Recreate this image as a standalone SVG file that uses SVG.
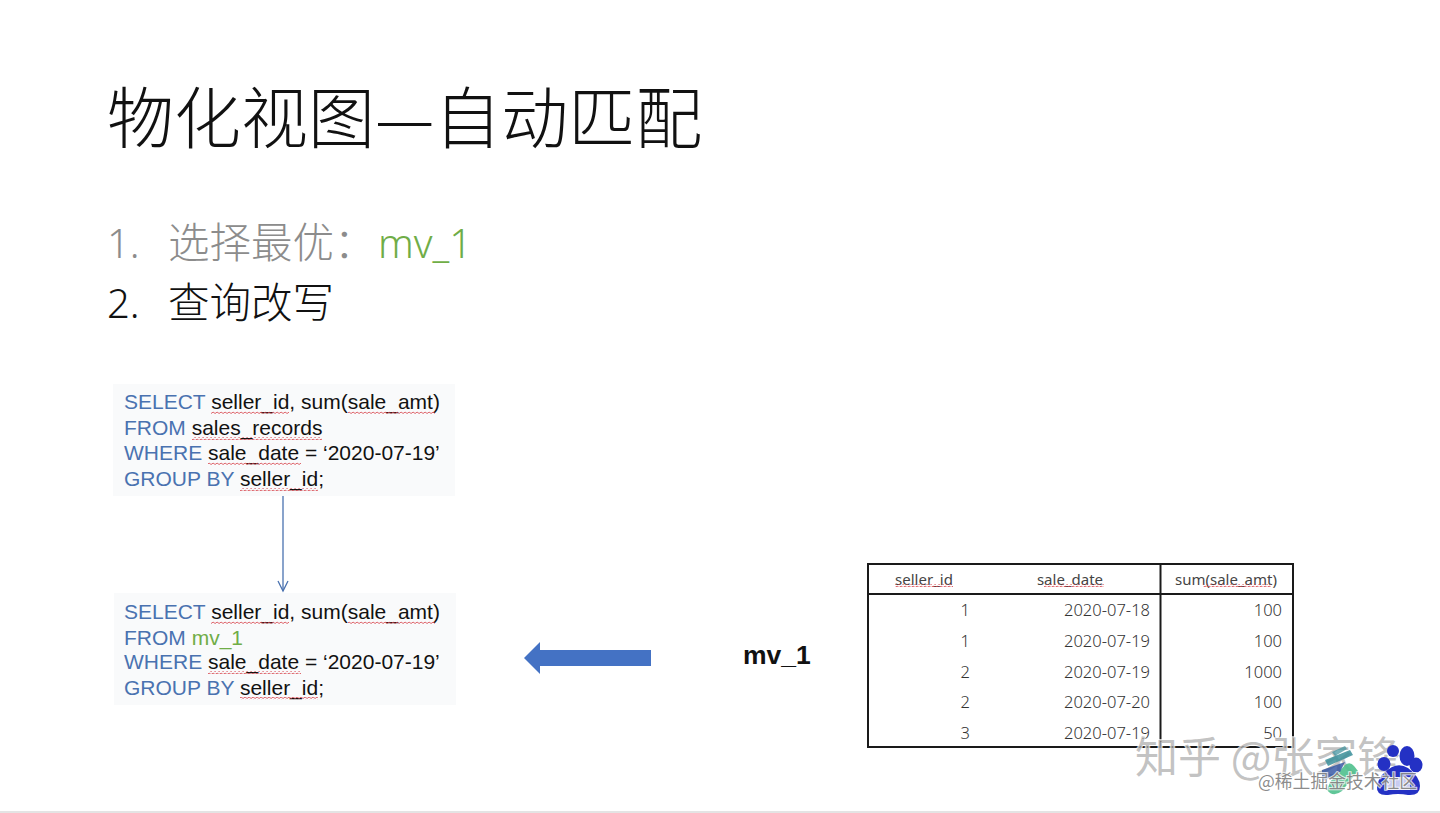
<svg xmlns="http://www.w3.org/2000/svg" width="1440" height="813" viewBox="0 0 1440 813">
<style>
.cjk{font-family:"Noto Sans CJK SC","Noto Sans",sans-serif;font-weight:300}
.lat{font-family:"Noto Sans",sans-serif;font-weight:300;font-size:40px}
.sql{font-family:"Liberation Sans",Arial,sans-serif;font-size:21px;fill:#111}
.kw{fill:#4a72b0}
.g{fill:#70ad47}
.box{fill:#f9fafb}
.head{font-family:"Noto Sans","Noto Sans CJK SC",sans-serif;font-size:15px;fill:#444;text-anchor:middle}
.cell{font-family:"Noto Sans","Noto Sans CJK SC",sans-serif;font-weight:300;font-size:16.500px;fill:#333;text-anchor:end}
.rule{stroke:#1a1a1a;stroke-width:2;fill:none}
.wm{font-family:"Noto Sans CJK SC",sans-serif;paint-order:stroke;stroke:#fff;stroke-opacity:.75;stroke-width:2px}
</style>
<defs>
<pattern id="wave" width="4" height="3" patternUnits="userSpaceOnUse">
<path d="M0 2 L1 1 L3 2.400 L4 2" fill="none" stroke="#d8434a" stroke-width="0.800"/>
</pattern>
<marker id="open" markerWidth="14" markerHeight="12" refX="11" refY="6" orient="auto" markerUnits="userSpaceOnUse">
<path d="M1 1 L11 6 L1 11" fill="none" stroke="#4a72b0" stroke-width="1.300"/>
</marker>
</defs>
<rect width="1440" height="813" fill="#fff"/>
<rect y="811" width="1440" height="2" fill="#e4e4e4"/>

<g id="title"><text class="cjk" x="107" y="143" font-size="67" fill="#111">物化视图—自动匹配</text></g>

<g id="list">
<text class="lat" x="107" y="258" fill="#8c8c8c">1.</text>
<text class="cjk" x="168" y="258" font-size="41.500" fill="#8c8c8c">选择最优：</text>
<text class="lat" x="378" y="258" fill="#70ad47">mv_1</text>
<text class="lat" x="107" y="318" fill="#111">2.</text>
<text class="cjk" x="168" y="318" font-size="41.500" fill="#111">查询改写</text>
</g>

<g id="sql-original">
<rect class="box" x="113" y="384" width="342" height="112"/>
<text class="sql" x="124" y="409"><tspan class="kw">SELECT </tspan>seller_id, sum(sale_amt)</text>
<text class="sql" x="124" y="435"><tspan class="kw">FROM </tspan>sales_records</text>
<text class="sql" x="124" y="460"><tspan class="kw">WHERE </tspan>sale_date = ‘2020-07-19’</text>
<text class="sql" x="124" y="486"><tspan class="kw">GROUP BY </tspan>seller_id;</text>
<rect x="211" y="411" width="78" height="3" fill="url(#wave)"/>
<rect x="348" y="411" width="87" height="3" fill="url(#wave)"/>
<rect x="192" y="437" width="130" height="3" fill="url(#wave)"/>
<rect x="208" y="462" width="93" height="3" fill="url(#wave)"/>
<rect x="240" y="488" width="78" height="3" fill="url(#wave)"/>
</g>

<g id="sql-rewritten">
<rect class="box" x="114" y="593" width="342" height="112"/>
<text class="sql" x="124" y="619"><tspan class="kw">SELECT </tspan>seller_id, sum(sale_amt)</text>
<text class="sql" x="124" y="645"><tspan class="kw">FROM </tspan><tspan class="g">mv_1</tspan></text>
<text class="sql" x="124" y="669"><tspan class="kw">WHERE </tspan>sale_date = ‘2020-07-19’</text>
<text class="sql" x="124" y="695"><tspan class="kw">GROUP BY </tspan>seller_id;</text>
<rect x="211" y="621" width="78" height="3" fill="url(#wave)"/>
<rect x="348" y="621" width="87" height="3" fill="url(#wave)"/>
<rect x="208" y="671" width="93" height="3" fill="url(#wave)"/>
<rect x="240" y="697" width="78" height="3" fill="url(#wave)"/>
</g>

<g id="connectors">
<line x1="283" y1="496" x2="283" y2="591" stroke="#4a72b0" stroke-width="1.300" marker-end="url(#open)"/>
<path d="M524 658 L540 642 L540 650 L651 650 L651 666 L540 666 L540 674 Z" fill="#4472c4"/>
</g>

<g id="mv-label"><text x="743" y="664" font-family="Liberation Sans,Arial,sans-serif" font-weight="700" font-size="26.500" fill="#111">mv_1</text></g>

<g id="table">
<rect class="rule" x="868" y="564" width="425" height="183"/>
<line class="rule" x1="868" y1="594" x2="1293" y2="594"/>
<line class="rule" x1="1160.500" y1="564" x2="1160.500" y2="747"/>
<text class="head" x="924" y="585">seller_id</text>
<text class="head" x="1070" y="585">sale_date</text>
<text class="head" x="1226" y="585">sum(sale_amt)</text>
<rect x="895" y="584" width="58" height="3" fill="url(#wave)"/>
<rect x="1044" y="584" width="60" height="3" fill="url(#wave)"/>
<rect x="1203" y="584" width="68" height="3" fill="url(#wave)"/>
<text class="cell" x="970" y="616">1</text><text class="cell" x="1150" y="616">2020-07-18</text><text class="cell" x="1282" y="616">100</text>
<text class="cell" x="970" y="647">1</text><text class="cell" x="1150" y="647">2020-07-19</text><text class="cell" x="1282" y="647">100</text>
<text class="cell" x="970" y="678">2</text><text class="cell" x="1150" y="678">2020-07-19</text><text class="cell" x="1282" y="678">1000</text>
<text class="cell" x="970" y="708">2</text><text class="cell" x="1150" y="708">2020-07-20</text><text class="cell" x="1282" y="708">100</text>
<text class="cell" x="970" y="739">3</text><text class="cell" x="1150" y="739">2020-07-19</text><text class="cell" x="1282" y="739">50</text>
</g>

<g id="watermarks">
<text class="wm" x="1135" y="773" font-size="43" fill="#a8a8a8" fill-opacity="0.7">知乎 @张家锋</text>
<path d="M1327 790 L1330 782 L1345 765 Q1350 761 1354 766 L1358 771 L1342 791 Q1333 798 1327 790 Z" fill="#4fc08d" opacity="0.9"/>
<path d="M1322 782 L1322 770 L1345 762 L1340 772 Z" fill="#2c4fa0" opacity="0.8"/>
<path d="M1325 760 L1350 750 L1353 755 L1328 766 Z" fill="#3b8f9a" opacity="0.85"/>
<path d="M1332 752 L1345 746 L1347 749 L1335 756 Z" fill="#3b8f9a" opacity="0.7"/>
<g fill="#2431c4">
<ellipse cx="1407" cy="756" rx="7.500" ry="10"/>
<ellipse cx="1416" cy="765" rx="6.500" ry="7.500"/>
<ellipse cx="1384" cy="764" rx="6.500" ry="7"/>
<ellipse cx="1393" cy="751" rx="6" ry="6"/>
<path d="M1377 786 Q1379 774 1392 767 Q1400 763 1408 768 Q1420 777 1420 786 Q1420 796 1408 795 Q1398 793 1388 795 Q1376 796 1377 786 Z"/>
</g>
<rect x="1386" y="777" width="24" height="13" fill="#fff" opacity="0.75"/>
<text class="wm" x="1258" y="788" font-size="17.800" fill="#777" fill-opacity="0.85">@稀土掘金技术社区</text>
</g>
</svg>
